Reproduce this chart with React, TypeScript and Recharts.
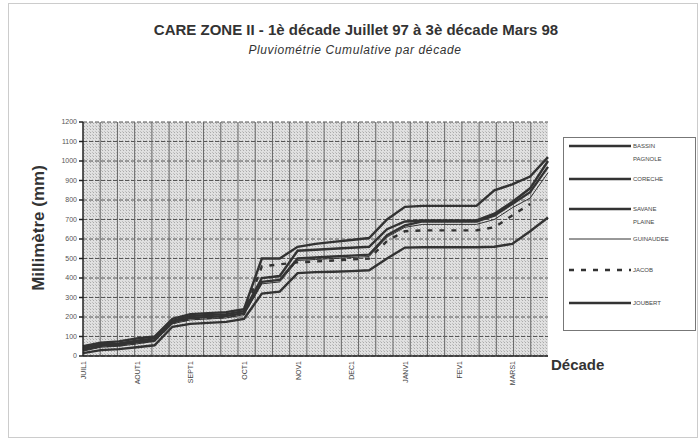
import React from "react";
import {
  LineChart,
  Line,
  XAxis,
  YAxis,
  CartesianGrid,
} from "recharts";

const decades = [
  "JUIL1", "JUIL2", "JUIL3", "AOUT1", "AOUT2", "AOUT3", "SEPT1", "SEPT2", "SEPT3",
  "OCT1", "OCT2", "OCT3", "NOV1", "NOV2", "NOV3", "DEC1", "DEC2", "DEC3",
  "JANV1", "JANV2", "JANV3", "FEV1", "FEV2", "FEV3", "MARS1", "MARS2", "MARS3",
];

const yTicks = [0, 100, 200, 300, 400, 500, 600, 700, 800, 900, 1000, 1100, 1200];

const bassinPagnole = [50, 68, 75, 90, 100, 190, 215, 220, 225, 240, 500, 500, 560, 575, 585, 595, 605, 700, 765, 770, 770, 770, 770, 850, 880, 920, 1020];
const coreche = [40, 60, 65, 78, 90, 180, 205, 210, 215, 230, 400, 410, 540, 545, 550, 555, 560, 650, 690, 695, 695, 695, 695, 730, 790, 860, 1000];
const savanePlaine = [30, 52, 58, 70, 80, 172, 195, 200, 205, 220, 380, 390, 500, 505, 510, 515, 520, 620, 670, 690, 690, 690, 690, 720, 780, 840, 970];
const guinaudee = [25, 45, 50, 62, 75, 165, 185, 190, 195, 212, 370, 380, 490, 495, 500, 505, 510, 610, 660, 675, 675, 675, 675, 700, 760, 810, 940];
const jacob = [35, 50, 55, 66, 80, 170, 190, 195, 200, 215, 460, 470, 480, 485, 490, 495, 500, 590, 640, 644, 644, 644, 644, 660, 720, 780, null];
const joubert = [15, 30, 35, 45, 55, 150, 165, 170, 175, 190, 320, 330, 425, 430, 432, 435, 440, 500, 556, 558, 558, 558, 558, 560, 575, 640, 710];

const series = [
  { key: "bp", lines: ["BASSIN", "PAGNOLE"], values: bassinPagnole, width: 2.4, dash: undefined },
  { key: "co", lines: ["CORECHE"], values: coreche, width: 2.4, dash: undefined },
  { key: "sp", lines: ["SAVANE", "PLAINE"], values: savanePlaine, width: 2.4, dash: undefined },
  { key: "gu", lines: ["GUINAUDEE"], values: guinaudee, width: 1, dash: undefined },
  { key: "ja", lines: ["JACOB"], values: jacob, width: 2.4, dash: "5 7" },
  { key: "jo", lines: ["JOUBERT"], values: joubert, width: 2.4, dash: undefined },
];

const data = decades.map((d, i) => {
  const row: Record<string, any> = { d };
  series.forEach((s) => (row[s.key] = s.values[i]));
  return row;
});

const font = "'Liberation Sans', Arial, sans-serif";
const ink = "#333";

const legendRows = [145, 178, 208, 238, 269, 302];

function Legend() {
  return (
    <svg
      width={131}
      height={192}
      style={{ position: "absolute", left: 563, top: 137, border: "1px solid #777", background: "#fff" }}
    >
      {series.map((s, i) => {
        const y = legendRows[i] - 137;
        return (
          <g key={s.key}>
            <line x1={5} x2={67} y1={y} y2={y} stroke={ink} strokeWidth={s.width} strokeDasharray={s.dash} />
            {s.lines.map((t, j) => (
              <text key={t} x={69} y={y + 2 + j * 13} fontSize={6} fill="#444" fontFamily={font}>
                {t}
              </text>
            ))}
          </g>
        );
      })}
    </svg>
  );
}

export default function App() {
  return (
    <div style={{ position: "absolute", left: 0, top: 0, width: 699, height: 439, background: "#fff", fontFamily: font }}>
      <div style={{ position: "absolute", left: 8, top: 3, width: 688, height: 433, border: "1px solid #ccc" }} />
      <div style={{ position: "absolute", left: 0, width: 712, top: 21, textAlign: "center", fontSize: 15, fontWeight: "bold", color: "#333" }}>
        CARE ZONE II - 1è décade Juillet 97 à 3è décade Mars 98
      </div>
      <div style={{ position: "absolute", left: 0, width: 710, top: 43, textAlign: "center", fontSize: 12, letterSpacing: 0.6, fontStyle: "italic", color: "#333" }}>
        Pluviométrie Cumulative par décade
      </div>
      <div
        style={{
          position: "absolute", left: 39, top: 228, transform: "translate(-50%, -50%) rotate(-90deg)",
          fontSize: 17, fontWeight: "bold", color: "#333", whiteSpace: "nowrap",
        }}
      >
        Millimètre (mm)
      </div>
      <div style={{ position: "absolute", left: 551, top: 356, fontSize: 15, fontWeight: "bold", color: "#333" }}>
        Décade
      </div>
      <LineChart
        width={699}
        height={439}
        data={data}
        margin={{ top: 122, right: 151, left: 33, bottom: 43 }}
        style={{ position: "absolute", left: 0, top: 0 }}
      >
        <defs>
          <pattern id="halftone" width="3" height="3" patternUnits="userSpaceOnUse">
            <rect width="3" height="3" fill="#e0e0e0" />
            <rect width="1" height="1" fill="#aaaaaa" />
            <rect x="2" y="2" width="1" height="1" fill="#c0c0c0" />
          </pattern>
        </defs>
        <CartesianGrid
          fill="url(#halftone)"
          fillOpacity={1}
          stroke="#555"
          strokeDasharray="4 2"
          vertical={false}
        />
        <CartesianGrid
          horizontal={false}
          stroke="#666"
          verticalCoordinatesGenerator={({ offset }: any) =>
            decades.map((_, i) => offset.left + (i * offset.width) / decades.length).slice(1)
          }
        />
        <XAxis
          dataKey="d"
          interval={2}
          height={40}
          stroke="#222"
          strokeWidth={1.5}
          tickLine={false}
          tick={{ fontSize: 7, fill: "#444", fontFamily: font }}
          angle={-90}
          textAnchor="end"
          dy={-3}
          dx={-2}
        />
        <XAxis xAxisId="top" orientation="top" dataKey="d" height={0} tick={false} tickLine={false} stroke="#222" strokeWidth={1.5} />
        <YAxis
          domain={[0, 1200]}
          ticks={yTicks}
          interval={0}
          width={50}
          stroke="#222"
          strokeWidth={1.5}
          tickSize={4}
          tick={{ fontSize: 7, fill: "#555", fontFamily: font }}
        />
        <YAxis yAxisId="right" orientation="right" domain={[0, 1200]} width={0} tick={false} tickLine={false} stroke="#222" strokeWidth={1.5} />
        {series.map((s) => (
          <Line
            key={s.key}
            dataKey={s.key}
            type="linear"
            stroke={ink}
            strokeWidth={s.width}
            strokeDasharray={s.dash}
            dot={false}
            activeDot={false}
            isAnimationActive={false}
          />
        ))}
      </LineChart>
      <Legend />
    </div>
  );
}
